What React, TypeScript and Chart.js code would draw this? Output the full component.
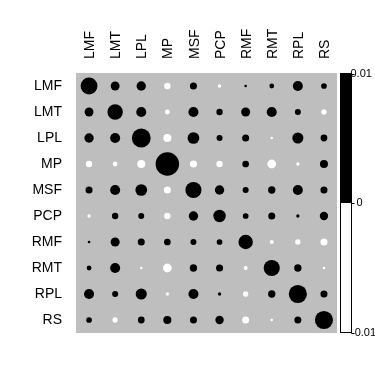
import React, { useEffect, useRef } from "react";
import { Chart, registerables } from "chart.js";

Chart.register(...registerables);

const labels = ["LMF", "LMT", "LPL", "MP", "MSF", "PCP", "RMF", "RMT", "RPL", "RS"];

const rowLMF = [0.00514, 0.00144, 0.00159, -0.00074, 0.0009, -0.0002, 0.00013, 0.00041, 0.00184, 0.00059];
const rowLMT = [0.00144, 0.00431, 0.00184, -0.00041, 0.00184, 0.00074, 0.00149, 0.00184, 0.00066, -0.00052];
const rowLPL = [0.00159, 0.00184, 0.00644, -0.00118, 0.0025, 0.00066, 0.0009, -0.0001, 0.00223, 0.00083];
const rowMP = [-0.00074, -0.00041, -0.00118, 0.01, -0.0009, -0.00074, 0.00081, -0.00139, -0.0002, 0.00118];
const rowMSF = [0.0009, 0.00184, 0.0025, -0.0009, 0.00472, 0.00159, 0.00066, 0.00098, 0.00184, 0.0009];
const rowPCP = [-0.0002, 0.00074, 0.00066, -0.00074, 0.00159, 0.00279, 0.00059, 0.0009, 0.0002, 0.00128];
const rowRMF = [0.00013, 0.00149, 0.0009, 0.00081, 0.00066, 0.00059, 0.00377, -0.00029, -0.00052, -0.0009];
const rowRMT = [0.00041, 0.00184, -0.0001, -0.00139, 0.00098, 0.0009, -0.00029, 0.00472, 0.00098, -0.00013];
const rowRPL = [0.00184, 0.00066, 0.00223, -0.0002, 0.00184, 0.0002, -0.00052, 0.00098, 0.00597, 0.0009];
const rowRS = [0.00059, -0.00052, 0.00083, 0.00118, 0.0009, 0.00128, -0.0009, -0.00013, 0.0009, 0.00597];

const matrix = [rowLMF, rowLMT, rowLPL, rowMP, rowMSF, rowPCP, rowRMF, rowRMT, rowRPL, rowRS];

const legendLimit = 0.01;
const legendTicks = [
  { value: 0.01, text: "0.01" },
  { value: 0, text: "0" },
  { value: -0.01, text: "-0.01" },
];

const FONT = "'Liberation Sans', Arial, Helvetica, sans-serif";

const panelBg = {
  id: "panelBg",
  beforeDatasetsDraw(chart: any) {
    const { ctx, chartArea } = chart;
    ctx.save();
    ctx.fillStyle = "#bebebe";
    ctx.fillRect(chartArea.left, chartArea.top, chartArea.right - chartArea.left, chartArea.bottom - chartArea.top);
    ctx.restore();
  },
};

const colorBar = {
  id: "colorBar",
  afterDraw(chart: any) {
    const { ctx, chartArea } = chart;
    const x0 = chartArea.right + 3.5;
    const w = 11;
    const top = chartArea.top + 0.5;
    const bottom = chartArea.bottom - 0.5;
    const valToY = (v: number) => top + ((legendLimit - v) / (2 * legendLimit)) * (bottom - top);
    const mid = valToY(0);
    ctx.save();
    ctx.font = "11px " + FONT;
    ctx.fillStyle = "#000";
    ctx.textBaseline = "middle";
    ctx.textAlign = "left";
    legendTicks.forEach((t) => {
      const y = valToY(t.value);
      ctx.strokeStyle = "#000";
      ctx.lineWidth = 1;
      ctx.beginPath();
      ctx.moveTo(x0 + w, Math.round(y) + 0.5);
      ctx.lineTo(x0 + w + 3, Math.round(y) + 0.5);
      ctx.stroke();
      const tx = t.value < 0 ? x0 + w - 0.5 : x0 + w + (t.value > 0 ? -1 : 5);
      ctx.fillText(t.text, tx, y);
    });
    ctx.fillStyle = "#000";
    ctx.fillRect(x0, top, w, mid - top);
    ctx.fillStyle = "#fff";
    ctx.fillRect(x0, mid, w, bottom - mid);
    ctx.strokeStyle = "#000";
    ctx.lineWidth = 1;
    ctx.strokeRect(x0, top, w, bottom - top);
    ctx.restore();
  },
};

export default function App() {
  const ref = useRef<HTMLCanvasElement | null>(null);

  useEffect(() => {
    if (!ref.current) return;
    const points: any[] = [];
    matrix.forEach((row, i) => {
      row.forEach((v, j) => {
        points.push({ x: j, y: i, v });
      });
    });

    const radiusFor = (ctx: any) => {
      const area = ctx.chart.chartArea;
      if (!area || !ctx.raw) return 0;
      const cell = (area.right - area.left) / labels.length;
      return 0.45 * cell * Math.sqrt(Math.abs(ctx.raw.v) / legendLimit);
    };

    const chart = new Chart(ref.current, {
      type: "scatter",
      data: {
        datasets: [
          {
            data: points,
            pointRadius: radiusFor,
            pointHoverRadius: radiusFor,
            pointBorderWidth: 0,
            pointBackgroundColor: (ctx: any) => (ctx.raw && ctx.raw.v < 0 ? "#ffffff" : "#000000"),
            pointBorderColor: "rgba(0,0,0,0)",
          } as any,
        ],
      },
      options: {
        animation: false,
        responsive: false,
        events: [],
        layout: { padding: { left: 0, top: 0, right: 38, bottom: 42 } },
        plugins: { legend: { display: false }, tooltip: { enabled: false } },
        scales: {
          x: {
            type: "linear",
            position: "top",
            min: -0.5,
            max: 9.5,
            grid: { display: false },
            border: { display: false },
            afterFit: (s: any) => {
              s.height = 73;
            },
            afterBuildTicks: (s: any) => {
              s.ticks = labels.map((_, i) => ({ value: i }));
            },
            ticks: {
              autoSkip: false,
              minRotation: 90,
              maxRotation: 90,
              padding: 6,
              labelOffset: 18,
              color: "#000",
              font: { family: FONT, size: 14 },
              callback: (v: any) => labels[Math.round(Number(v))] ?? "",
            },
          },
          y: {
            type: "linear",
            position: "left",
            reverse: true,
            min: -0.5,
            max: 9.5,
            grid: { display: false },
            border: { display: false },
            afterFit: (s: any) => {
              s.width = 76;
            },
            afterBuildTicks: (s: any) => {
              s.ticks = labels.map((_, i) => ({ value: i }));
            },
            ticks: {
              autoSkip: false,
              padding: 6,
              color: "#000",
              font: { family: FONT, size: 14 },
              callback: (v: any) => labels[Math.round(Number(v))] ?? "",
            },
          },
        },
      },
      plugins: [panelBg, colorBar],
    });
    return () => chart.destroy();
  }, []);

  return (
    <div style={{ position: "fixed", left: 0, top: 0, width: 375, height: 375, background: "#fff" }}>
      <canvas ref={ref} width={375} height={375} style={{ display: "block" }} />
    </div>
  );
}
